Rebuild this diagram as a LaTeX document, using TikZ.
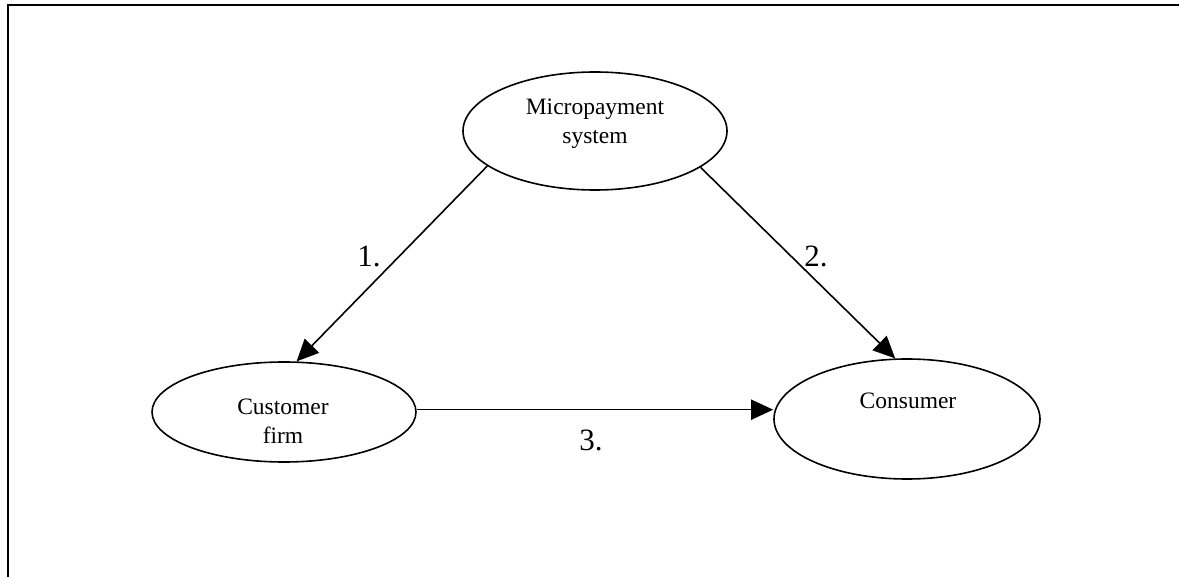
\documentclass[tikz,border=0pt]{standalone}
\usepackage{fontspec}
\setmainfont{Liberation Serif}
\usetikzlibrary{arrows.meta,shapes.geometric}
\begin{document}
\begin{tikzpicture}[x=1pt,y=-1pt,
  ell/.style={draw,ellipse,line width=1.6pt,inner sep=0pt},
  etext/.style={align=center,font=\fontsize{23.5}{29}\selectfont,inner sep=0pt},
  num/.style={font=\fontsize{31}{34}\selectfont,inner sep=0pt},
  conn/.style={line width=1.6pt,-{Triangle[length=22pt,width=20pt]}},
  frame/.style={line width=2.2pt}]
\useasboundingbox (0,0) rectangle (1179,577);
\draw[frame] (7.7,577) -- (7.7,5.2) -- (1179,5.2);
\node[ell,minimum width=264pt,minimum height=118pt] (mps) at (595,131) {};
\node[ell,minimum width=264pt,minimum height=100pt] (cf) at (284,412) {};
\node[ell,minimum width=266pt,minimum height=120pt] (cons) at (907,419) {};
\node[etext] (mpst) at (595,124) {Micropayment\\system};
\node[etext] (cft) at (283,421) {Customer\\firm};
\node[etext] (const) at (908,401) {Consumer};
\draw[conn] (mps.198.6) -- (cf.76);
\draw[conn] (mps.341.9) -- (cons.101);
\draw[conn] (cf.1.7) -- (cf.1.7 -| cons.west);
\node[num] (l1) at (369,256) {1.};
\node[num] (l2) at (816,256) {2.};
\node[num] (l3) at (591,440) {3.};
\end{tikzpicture}
\end{document}
